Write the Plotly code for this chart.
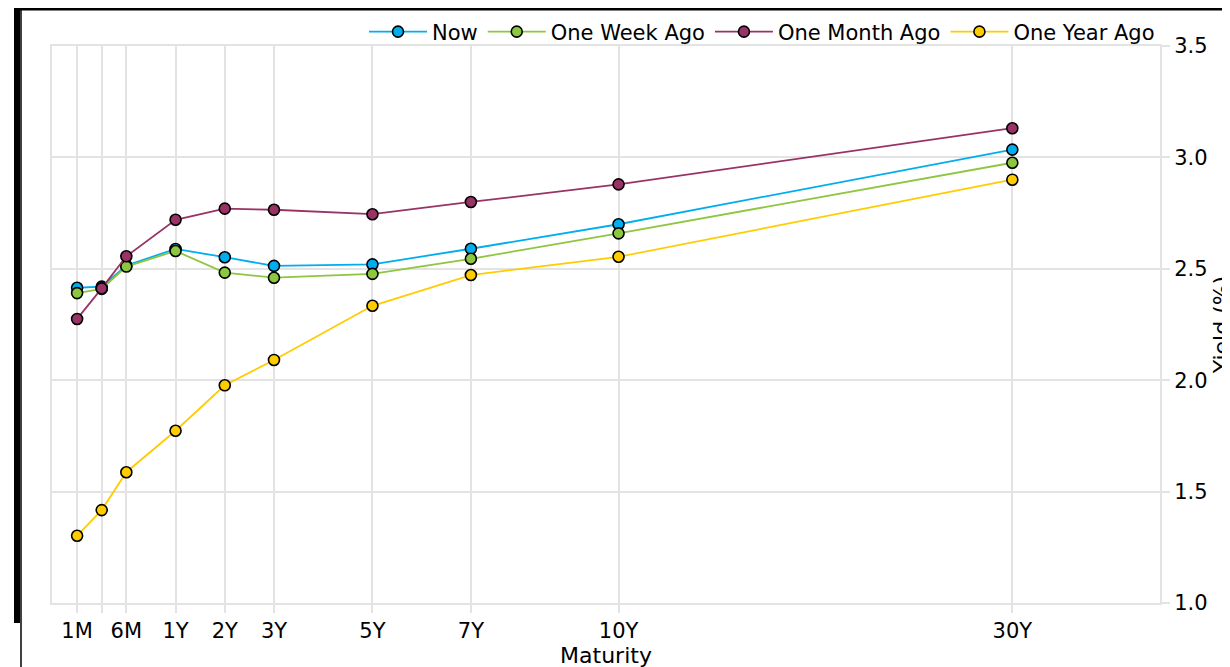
import plotly.graph_objects as go

# Maturity categories and their position on the (custom-spaced) x axis
maturities = ["1M", "3M", "6M", "1Y", "2Y", "3Y", "5Y", "7Y", "10Y", "30Y"]
positions = [0, 1, 2, 4, 6, 8, 12, 16, 22, 38]
tick_text = ["1M", "", "6M", "1Y", "2Y", "3Y", "5Y", "7Y", "10Y", "30Y"]

now = [2.415, 2.42, 2.515, 2.589, 2.552, 2.513, 2.52, 2.59, 2.70, 3.035]
one_week_ago = [2.391, 2.41, 2.51, 2.58, 2.483, 2.46, 2.477, 2.545, 2.659, 2.976]
one_month_ago = [2.275, 2.412, 2.556, 2.72, 2.77, 2.765, 2.745, 2.80, 2.879, 3.131]
one_year_ago = [1.302, 1.417, 1.587, 1.773, 1.977, 2.091, 2.334, 2.472, 2.554, 2.90]

series = [
    ("Now", now, "#00AEEF"),
    ("One Week Ago", one_week_ago, "#8DC63F"),
    ("One Month Ago", one_month_ago, "#993366"),
    ("One Year Ago", one_year_ago, "#FFCC00"),
]

W, H = 1230, 667
OFF = 8  # page body margin offset
L, T = 52 - OFF, 46 - OFF
R = W - (1160 - OFF)
B = H - (603 - OFF)
pw, ph = W - L - R, H - T - B

fig = go.Figure()
for name, vals, color in series:
    fig.add_trace(go.Scatter(
        x=positions, y=vals, name=name, mode="lines+markers",
        customdata=maturities,
        line=dict(color=color, width=1.8),
        marker=dict(color=color, size=11, line=dict(color="black", width=1.6)),
        hovertemplate="%{customdata}: %{y:.2f}<extra>" + name + "</extra>",
    ))

grid = "#e3e3e3"
font = "DejaVu Sans, Arial, sans-serif"

def px_x(p):
    return (p - OFF - L) / pw

def px_y(p):
    return (H - B - (p - OFF)) / ph

fig.update_layout(
    width=W, height=H,
    margin=dict(l=L, r=R, t=T, b=B, autoexpand=False),
    paper_bgcolor="white", plot_bgcolor="white",
    font=dict(family=font, size=21, color="black"),
    showlegend=True,
    legend=dict(orientation="h", x=px_x(1160), xanchor="right",
                y=px_y(32), yanchor="middle",
                font=dict(size=21), bgcolor="rgba(0,0,0,0)",
                itemwidth=58, tracegroupgap=0),
    xaxis=dict(
        range=[-1.02, 44.0], tickmode="array", tickvals=positions, ticktext=tick_text,
        showgrid=True, gridcolor=grid, gridwidth=1.5,
        showline=True, linecolor=grid, linewidth=2, mirror=True,
        ticks="outside", ticklen=8, tickcolor=grid, tickwidth=1.5,
        tickfont=dict(size=21), zeroline=False, automargin=False,
        title=dict(text="Maturity", font=dict(size=22), standoff=2),
    ),
    yaxis=dict(
        range=[1.0, 3.5], dtick=0.5, tickformat=".1f", side="right",
        showgrid=True, gridcolor=grid, gridwidth=1.5,
        showline=True, linecolor=grid, linewidth=2, mirror=True,
        ticks="outside", ticklen=8, tickcolor=grid, tickwidth=1.5,
        tickfont=dict(size=21), zeroline=False, automargin=False,
        title=dict(text="Yield (%)", font=dict(size=22), standoff=7),
    ),
)

shapes = [
    dict(type="rect", xref="paper", yref="paper", x0=px_x(14), x1=px_x(20),
         y0=px_y(623), y1=px_y(8), fillcolor="black", line=dict(width=0), layer="above"),
    dict(type="line", xref="paper", yref="paper", x0=px_x(14), x1=px_x(1240),
         y0=px_y(9), y1=px_y(9), line=dict(color="black", width=3), layer="above"),
    dict(type="line", xref="paper", yref="paper", x0=px_x(21), x1=px_x(21),
         y0=px_y(9), y1=px_y(680), line=dict(color="black", width=1.5), layer="above"),
]
fig.update_layout(shapes=shapes)

fig.write_html("out.html")
